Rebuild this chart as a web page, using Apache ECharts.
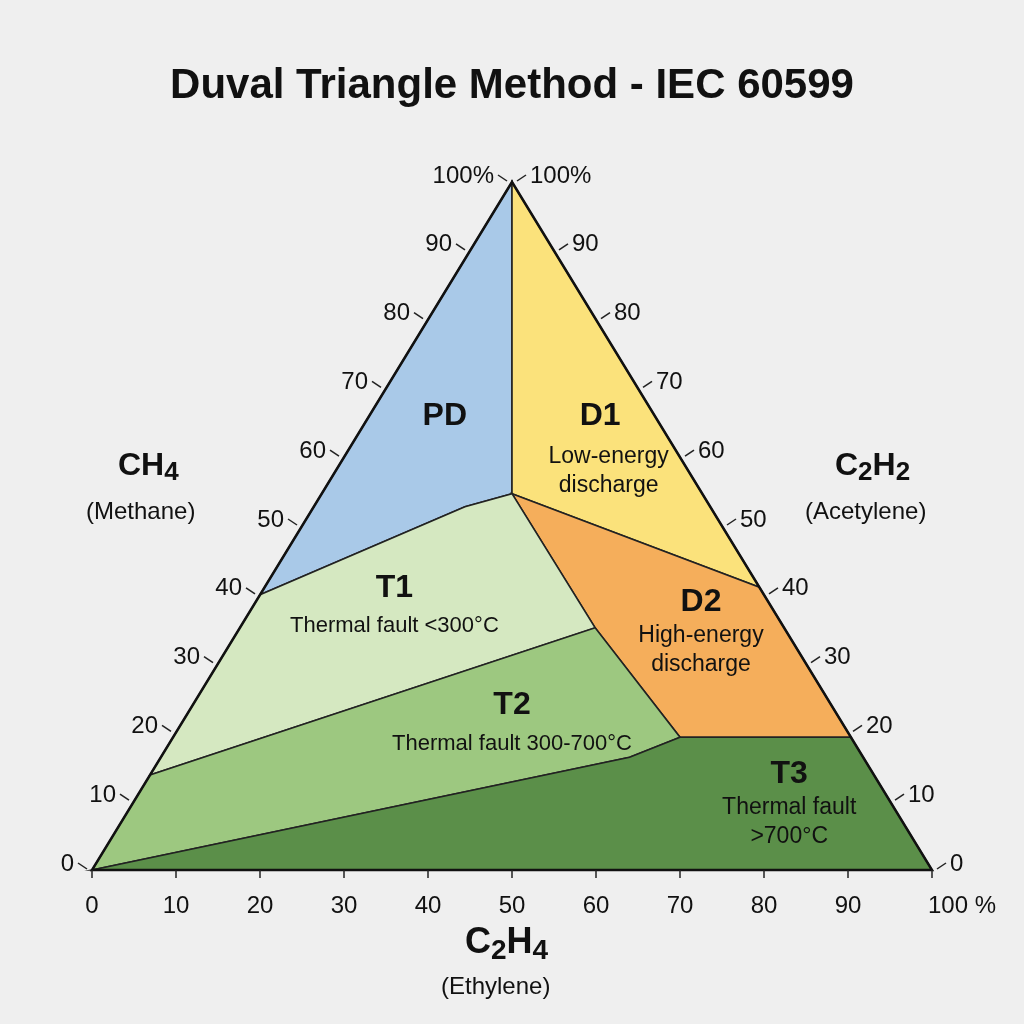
<!DOCTYPE html>
<html><head><meta charset="utf-8">
<script src="https://cdn.jsdelivr.net/npm/echarts@6/dist/echarts.min.js"></script>
<style>html,body{margin:0;background:#efefef}#c{width:1024px;height:1024px}</style></head>
<body><div id="c"></div>
<script>
const levels=[0,10,20,30,40,50,60,70,80,90,100];
const leftLabels=['0','10','20','30','40','50','60','70','80','90','100%'];
const rightLabels=['0','10','20','30','40','50','60','70','80','90','100%'];
const bottomLabels=['0','10','20','30','40','50','60','70','80','90','100 %'];
const zones=[
 {name:'PD',color:'#a9c9e8',pts:[[50,100],[20,40],[44.4,52.8],[50,54.7]]},
 {name:'D1',color:'#fbe27b',pts:[[50,100],[50,54.7],[79.45,41.1]]},
 {name:'D2',color:'#f5ae5b',pts:[[50,54.7],[79.45,41.1],[90.35,19.3],[70,19.3],[59.9,35.2]]},
 {name:'T1',color:'#d5e8c1',pts:[[20,40],[44.4,52.8],[50,54.7],[59.9,35.2],[6.9,13.8]]},
 {name:'T2',color:'#9dc880',pts:[[6.9,13.8],[59.9,35.2],[70,19.3],[64,16.4],[0,0]]},
 {name:'T3',color:'#5b8f49',pts:[[0,0],[64,16.4],[70,19.3],[90.35,19.3],[100,0]]}
];
const zoneLabels=[
 {x:42,y:66,t:'PD',s:32,b:true},
 {x:60.5,y:66,t:'D1',s:32,b:true},
 {x:61.5,y:58,t:'Low-energy\ndischarge',s:23},
 {x:36,y:41,t:'T1',s:32,b:true},
 {x:36,y:35.5,t:'Thermal fault <300°C',s:22},
 {x:72.5,y:39,t:'D2',s:32,b:true},
 {x:72.5,y:32,t:'High-energy\ndischarge',s:23},
 {x:50,y:24,t:'T2',s:32,b:true},
 {x:50,y:18.3,t:'Thermal fault 300-700°C',s:22},
 {x:83,y:14,t:'T3',s:32,b:true},
 {x:83,y:7,t:'Thermal fault\n>700°C',s:23}
];
const chart=echarts.init(document.getElementById('c'));
const F='Liberation Sans, Arial, sans-serif';
function polyItem(z){return function(p,api){
  return {type:'polygon',shape:{points:z.pts.map(q=>api.coord(q))},style:{fill:z.color,stroke:'#222',lineWidth:1.6}};};}
const series=zones.map(z=>({type:'custom',data:[0],renderItem:polyItem(z),silent:true,z:1}));
series.push({type:'custom',data:[0],z:3,silent:true,renderItem:(p,api)=>({type:'polygon',shape:{points:[[0,0],[100,0],[50,100]].map(q=>api.coord(q))},style:{fill:'none',stroke:'#111',lineWidth:2.5}})});
series.push({type:'custom',data:levels,z:4,silent:true,renderItem:(p,api)=>{
  const v=api.value(0), i=p.dataIndex, ch=[];
  const L=api.coord([v/2,v]), R=api.coord([100-v/2,v]), B=api.coord([v,0]);
  ch.push({type:'line',shape:{x1:L[0]-5,y1:L[1]-1,x2:L[0]-14,y2:L[1]-7},style:{stroke:'#222',lineWidth:1.5}});
  ch.push({type:'text',style:{x:L[0]-18,y:L[1]-6,text:leftLabels[i],align:'right',verticalAlign:'middle',font:'24px '+F,fill:'#111'}});
  ch.push({type:'line',shape:{x1:R[0]+5,y1:R[1]-1,x2:R[0]+14,y2:R[1]-7},style:{stroke:'#222',lineWidth:1.5}});
  ch.push({type:'text',style:{x:R[0]+18,y:R[1]-6,text:rightLabels[i],align:'left',verticalAlign:'middle',font:'24px '+F,fill:'#111'}});
  ch.push({type:'line',shape:{x1:B[0],y1:B[1],x2:B[0],y2:B[1]+8},style:{stroke:'#222',lineWidth:1.5}});
  ch.push({type:'text',style:{x:B[0]+(i==10?30:0),y:B[1]+36,text:bottomLabels[i],align:'center',verticalAlign:'middle',font:'24px '+F,fill:'#111'}});
  return {type:'group',children:ch};}});
series.push({type:'custom',data:zoneLabels.map((d,i)=>i),z:5,silent:true,renderItem:(p,api)=>{
  const d=zoneLabels[p.dataIndex], c=api.coord([d.x,d.y]);
  return {type:'text',style:{x:c[0],y:c[1],text:d.t,align:'center',verticalAlign:'middle',lineHeight:d.s*1.25,font:(d.b?'bold ':'')+d.s+'px '+F,fill:'#111'}};}});
chart.setOption({
 backgroundColor:'#efefef',animation:false,
 grid:{left:92,right:92,top:182,bottom:154},
 xAxis:{type:'value',min:0,max:100,show:false},
 yAxis:{type:'value',min:0,max:100,show:false},
 title:{text:'Duval Triangle Method - IEC 60599',left:'center',top:60,textStyle:{fontFamily:F,fontSize:42,fontWeight:'bold',color:'#111'}},
 graphic:[
  {type:'text',left:118,top:450,style:{text:'CH{s|4}',font:'bold 32px '+F,fill:'#111',rich:{s:{fontSize:26,fontWeight:'bold',padding:[14,0,0,0]}}}},
  {type:'text',left:86,top:500,style:{text:'(Methane)',font:'24px '+F,fill:'#111'}},
  {type:'text',left:835,top:450,style:{text:'C{s|2}H{s|2}',font:'bold 32px '+F,fill:'#111',rich:{s:{fontSize:26,fontWeight:'bold',padding:[14,0,0,0]}}}},
  {type:'text',left:805,top:500,style:{text:'(Acetylene)',font:'24px '+F,fill:'#111'}},
  {type:'text',left:465,top:925,style:{text:'C{s|2}H{s|4}',font:'bold 36px '+F,fill:'#111',rich:{s:{fontSize:28,fontWeight:'bold',padding:[16,0,0,0]}}}},
  {type:'text',left:441,top:975,style:{text:'(Ethylene)',font:'24px '+F,fill:'#111'}}
 ],
 series
});
</script></body></html>
